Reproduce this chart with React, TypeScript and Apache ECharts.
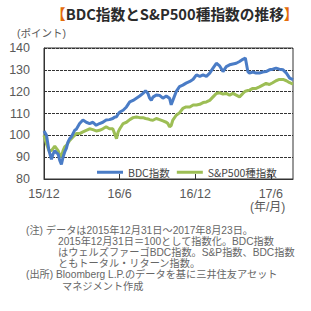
import React, { useEffect, useRef } from "react";
import * as echarts from "echarts";

// x: days elapsed since 2015-12-31 (data runs to 2017-08-23 = day 601)
const startDate = "2015-12-31";
const endDay = 601;
const days = [
  0, 6, 12, 18, 22, 26, 30, 34, 38, 42, 46, 50, 54, 58, 62, 66, 70, 74, 78, 86,
  94, 102, 110, 118, 126, 134, 142, 150, 158, 166, 170, 175, 179, 183, 191, 199,
  207, 215, 223, 231, 239, 245, 251, 255, 259, 263, 271, 279, 287, 295, 299, 303,
  307, 311, 319, 327, 335, 343, 352, 360, 368, 376, 384, 392, 400, 408, 416, 424,
  432, 440, 448, 456, 464, 472, 480, 486, 492, 496, 504, 512, 520, 528, 536, 544,
  552, 560, 568, 577, 585, 593, 601,
];
const bdcIndex = [
  102, 100, 93, 89, 91.5, 93, 92, 91.5, 88.5, 86.7, 90, 92.4, 94, 97, 98.5, 99.3,
  100.8, 102.3, 102.8, 105.4, 107, 106, 105.4, 106, 104.6, 105.4, 106, 107, 107.2,
  107.7, 108.3, 108.5, 109.8, 110.7, 111.5, 113, 115.3, 116, 117, 118, 119.2, 120.4,
  119.2, 117, 116, 117.5, 118.5, 118.3, 117, 118, 117.5, 117, 114, 116, 120, 122.3,
  123, 123.9, 124.7, 125.7, 127.7, 127, 127.7, 127, 128.5, 130.8, 133, 131.8, 129.2,
  131.5, 132.3, 132.7, 133, 133.8, 134.8, 135.4, 129.2, 128.5, 129, 128.5, 128.5,
  129, 129.2, 130, 130.3, 130.8, 130.3, 130, 128.5, 126.2, 125.5,
];
const sp500Index = [
  100, 96, 93, 93, 94, 95, 94, 93, 91, 90, 93, 94.7, 95.4, 96.5, 97.7, 98.5, 99.3,
  100, 100.8, 100.8, 101.6, 102.3, 103, 102.6, 102, 102.3, 103, 103.9, 103, 103, 101,
  98.5, 101.6, 103, 105.4, 106, 107.2, 108.1, 108.4, 108.1, 108.1, 107.7, 107.5,
  107.2, 107, 106.9, 107.7, 107.2, 106.6, 106, 105.4, 103.9, 104.5, 107, 109.2, 110.3,
  112.3, 113, 113, 113.9, 113.9, 114.2, 115, 115.3, 116, 117.6, 119.2, 119.5, 118.9,
  119.2, 118.4, 119.2, 118.4, 117.6, 119.2, 120.2, 120.5, 120.7, 121.5, 121.5, 122.2,
  123, 123.8, 123.3, 124.1, 125, 125.6, 125.6, 125, 124.1, 123.5,
];
const xTickLabels = ["15/12", "16/6", "16/12", "17/6"];
const seriesNames = ["BDC指数", "S&P500種指数"];
const titleText = "BDC指数とS&P500種指数の推移";
const noteLines = [
  "(注) データは2015年12月31日～2017年8月23日。",
  "2015年12月31日＝100として指数化。BDC指数",
  "はウェルズファーゴBDC指数。S&P指数、BDC指数",
  "ともトータル・リターン指数。",
  "(出所) Bloomberg L.P.のデータを基に三井住友アセット",
  "マネジメント作成",
];

const FONT = '"Noto Sans CJK JP", "Noto Sans", sans-serif';
const TIGHT_FONT = '"Liberation Sans", "Noto Sans CJK JP", sans-serif';
const GRAY = "#595959";

export default function App() {
  const ref = useRef<HTMLDivElement>(null);
  useEffect(() => {
    if (!ref.current) return;
    const chart = echarts.init(ref.current, null, { renderer: "svg" });
    const halfYear = 182.5;
    const noteX = [26, 58, 58, 58, 26, 62];
    const noteY = [230, 241.2, 252.4, 263.6, 274.8, 286];
    chart.setOption({
      animation: false,
      textStyle: { fontFamily: FONT },
      grid: {
        left: 44,
        top: 48,
        width: 249,
        height: 131,
        show: true,
        borderColor: "#333",
        borderWidth: 1,
        backgroundColor: "transparent",
      },
      legend: {
        left: 92,
        top: 162,
        icon: "rect",
        itemWidth: 26,
        itemHeight: 3,
        itemGap: 7,
        textStyle: { color: "#444", fontSize: 10.5, fontFamily: FONT },
        data: seriesNames,
      },
      xAxis: {
        type: "value",
        min: 0,
        max: endDay,
        interval: halfYear,
        axisLine: { show: true, lineStyle: { color: "#333" } },
        axisTick: { show: true, inside: true, length: 5, lineStyle: { color: "#333" } },
        splitLine: { show: false },
        axisLabel: {
          color: GRAY,
          fontSize: 12.5,
          fontFamily: TIGHT_FONT,
          margin: 9,
          showMaxLabel: false,
          formatter: (v: number) => {
            const i = Math.round(v / halfYear);
            if (Math.abs(v - i * halfYear) > 1) return "";
            return xTickLabels[i] ?? "";
          },
        },
      },
      yAxis: {
        type: "value",
        min: 80,
        max: 140,
        interval: 10,
        axisLine: { show: true, lineStyle: { color: "#333" } },
        axisTick: { show: false },
        axisLabel: { color: GRAY, fontSize: 12.5, fontFamily: TIGHT_FONT, margin: 14 },
        splitLine: { show: true, lineStyle: { color: "#333", type: [3, 1], width: 1 } },
      },
      series: [
        {
          name: seriesNames[0],
          type: "line",
          data: days.map((d, i) => [d, bdcIndex[i]]),
          showSymbol: false,
          symbol: "none",
          lineStyle: { color: "#4A7CC6", width: 3 },
          itemStyle: { color: "#4A7CC6" },
          z: 3,
        },
        {
          name: seriesNames[1],
          type: "line",
          data: days.map((d, i) => [d, sp500Index[i]]),
          showSymbol: false,
          symbol: "none",
          lineStyle: { color: "#9DBE55", width: 3 },
          itemStyle: { color: "#9DBE55" },
          z: 2,
        },
      ],
      graphic: [
        {
          type: "text",
          left: 51,
          top: 6,
          style: {
            text: `{b|【}{t|${titleText}}{b|】}`,
            rich: {
              b: { fill: "#E46C0A", fontSize: 14.7, fontWeight: "bold", fontFamily: FONT },
              t: { fill: "#2b2b2b", fontSize: 14.7, fontWeight: "bold", fontFamily: FONT },
            },
          },
        },
        {
          type: "text",
          left: 17,
          top: 28,
          style: { text: "(ポイント)", fill: GRAY, fontSize: 10.5, fontFamily: TIGHT_FONT },
        },
        {
          type: "text",
          left: 250,
          top: 201,
          style: { text: "(年/月)", fill: GRAY, fontSize: 12, fontFamily: TIGHT_FONT },
        },
        ...noteLines.map((t, i) => ({
          type: "text",
          left: noteX[i],
          top: noteY[i] - 5.5,
          style: { text: t, fill: "#666", fontSize: 10.2, lineHeight: 11, fontFamily: TIGHT_FONT },
        })),
      ],
    });
    return () => chart.dispose();
  }, []);
  return (
    <div
      ref={ref}
      data-start={startDate}
      style={{ position: "fixed", left: 0, top: 0, width: 311, height: 311, background: "#fff" }}
    />
  );
}
